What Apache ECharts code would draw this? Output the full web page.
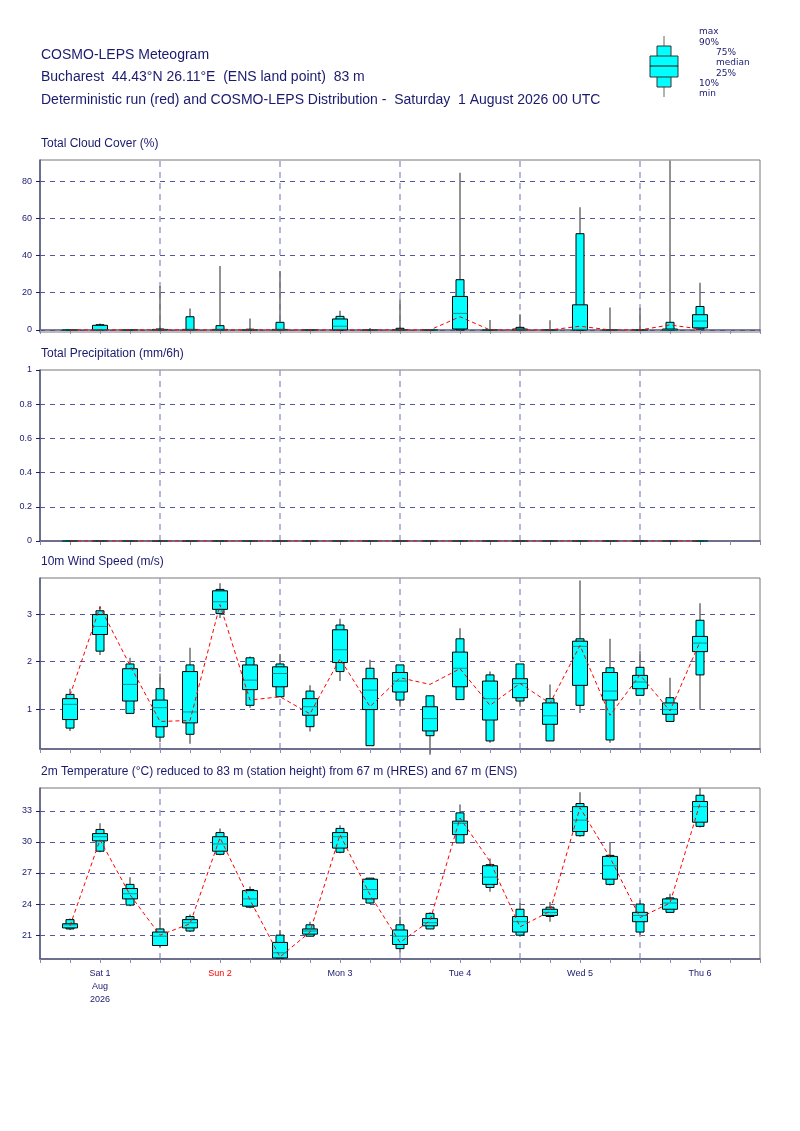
<!DOCTYPE html>
<html>
<head>
<meta charset="utf-8">
<script src="https://cdn.jsdelivr.net/npm/echarts@6/dist/echarts.min.js"></script>
<style>
  html, body { margin: 0; padding: 0; background: #fff; }
  #chart { width: 800px; height: 1131px; }
</style>
</head>
<body>
<div id="chart"></div>
<script>
// forecast steps in hours from Sat 1 Aug 00 UTC
var steps = [6, 12, 18, 24, 30, 36, 42, 48, 54, 60, 66, 72, 78, 84, 90, 96, 102, 108, 114, 120, 126, 132];
var dayLabels = ['Sat 1\nAug\n2026', 'Sun 2', 'Mon 3', 'Tue 4', 'Wed 5', 'Thu 6'];

// each row: min, p10, p25, median, p75, p90, max
var cloudBox = [
    [0, 0, 0, 0, 0, 0, 0],
    [0, 0, 0, 0, 2.5, 2.8, 3.5],
    [0, 0, 0, 0, 0, 0, 0],
    [0, 0, 0, 0, 0.3, 0.5, 23.6],
    [0, 0, 0, 0, 0.3, 7.1, 11.5],
    [0, 0, 0, 0, 0.3, 2.3, 34.3],
    [0, 0, 0, 0, 0, 0.4, 6.2],
    [0, 0, 0, 0, 0.3, 4.1, 31.6],
    [0, 0, 0, 0, 0, 0, 0],
    [0, 0, 0, 2.0, 5.9, 7.3, 10.3],
    [0, 0, 0, 0, 0, 0, 1],
    [0, 0, 0, 0, 0.2, 0.9, 16.5],
    [0, 0, 0, 0, 0, 0, 0],
    [0, 0, 0.5, 8.9, 18, 27, 84.5],
    [0, 0, 0, 0, 0, 0, 5.3],
    [0, 0, 0, 0, 0.5, 1.4, 8.5],
    [0, 0, 0, 0, 0, 0, 5.2],
    [0, 0, 0, 0.3, 13.5, 51.7, 65.9],
    [0, 0, 0, 0, 0, 0, 12],
    [0, 0, 0, 0, 0, 0, 11.9],
    [0, 0, 0, 0, 0.5, 4.1, 91],
    [0, 0.5, 1.1, 4.8, 8.2, 12.6, 25.4]
];
var cloudDet = [0, 0, 0, 0, 0, 0, 0, 0, 0, 0, 0, 0, 0, 7.1, 0, 0, 0, 2, 0, 0, 2.7, 0.5];

var precipBox = steps.map(function () { return [0, 0, 0, 0, 0, 0, 0]; });
var precipDet = steps.map(function () { return 0; });

var windBox = [
    [0.54, 0.60, 0.78, 1.10, 1.22, 1.31, 1.43],
    [2.14, 2.22, 2.57, 2.74, 2.99, 3.07, 3.17],
    [0.91, 0.91, 1.17, 1.52, 1.85, 1.95, 2.08],
    [0.30, 0.41, 0.63, 1.03, 1.19, 1.43, 1.75],
    [0.27, 0.47, 0.71, 0.94, 1.79, 1.93, 2.29],
    [2.92, 3.01, 3.10, 3.26, 3.49, 3.52, 3.65],
    [1.03, 1.08, 1.41, 1.61, 1.93, 2.08, 2.11],
    [1.26, 1.26, 1.47, 1.75, 1.89, 1.95, 2.16],
    [0.53, 0.63, 0.87, 1.05, 1.22, 1.38, 1.50],
    [1.59, 1.79, 1.98, 2.25, 2.67, 2.77, 2.90],
    [0.23, 0.23, 0.99, 1.40, 1.64, 1.86, 2.04],
    [1.05, 1.19, 1.36, 1.59, 1.77, 1.93, 1.93],
    [0.04, 0.44, 0.54, 0.80, 1.05, 1.28, 1.28],
    [1.20, 1.20, 1.47, 1.86, 2.20, 2.48, 2.70],
    [0.29, 0.33, 0.77, 1.22, 1.59, 1.72, 1.79],
    [1.05, 1.17, 1.24, 1.54, 1.64, 1.95, 1.95],
    [0.33, 0.33, 0.68, 0.86, 1.13, 1.22, 1.52],
    [0.92, 1.08, 1.50, 2.32, 2.43, 2.48, 3.71],
    [0.29, 0.35, 1.19, 1.38, 1.77, 1.87, 2.48],
    [1.29, 1.29, 1.43, 1.57, 1.71, 1.88, 2.23],
    [0.74, 0.74, 0.89, 0.99, 1.13, 1.24, 1.66],
    [0.99, 1.72, 2.21, 2.39, 2.53, 2.87, 3.23]
];
var windDet = [1.29, 3.15, 1.92, 0.74, 0.76, 3.2, 1.19, 1.26, 0.90, 2.06, 1.05, 1.66,
    1.52, 1.85, 1.08, 1.54, 1.12, 2.34, 0.87, 1.72, 0.96, 2.42];

var tempBox = [
    [21.5, 21.6, 21.7, 22.0, 22.1, 22.5, 22.6],
    [29.0, 29.1, 30.1, 30.5, 30.8, 31.2, 31.8],
    [23.8, 23.9, 24.5, 25.0, 25.5, 25.9, 26.6],
    [19.8, 20.0, 20.0, 20.9, 21.3, 21.6, 22.7],
    [21.3, 21.4, 21.7, 22.2, 22.5, 22.8, 23.0],
    [28.7, 28.8, 29.1, 29.8, 30.5, 30.9, 31.3],
    [23.6, 23.7, 23.8, 24.5, 25.3, 25.4, 25.7],
    [18.8, 18.8, 18.8, 19.3, 20.3, 21.0, 21.5],
    [20.9, 20.9, 21.1, 21.4, 21.6, 22.0, 22.3],
    [28.9, 29.0, 29.4, 30.5, 30.9, 31.3, 31.6],
    [24.0, 24.1, 24.5, 25.4, 26.4, 26.5, 26.5],
    [19.3, 19.7, 20.1, 20.9, 21.5, 22.0, 22.8],
    [21.6, 21.6, 21.9, 22.2, 22.6, 23.1, 23.2],
    [29.9, 29.9, 30.7, 31.8, 32.0, 32.8, 33.6],
    [25.2, 25.6, 25.9, 26.6, 27.7, 27.8, 28.4],
    [20.9, 21.0, 21.3, 22.3, 22.8, 23.5, 24.1],
    [22.3, 22.8, 22.9, 23.2, 23.5, 23.7, 24.2],
    [30.5, 30.6, 31.0, 32.1, 33.4, 33.7, 34.8],
    [25.8, 25.9, 26.4, 27.7, 28.6, 28.7, 30.0],
    [21.0, 21.3, 22.3, 22.9, 23.2, 24.0, 24.4],
    [23.2, 23.2, 23.5, 24.1, 24.5, 24.6, 25.0],
    [31.4, 31.5, 31.9, 33.4, 33.9, 34.5, 35.2]
];
var tempDet = [21.9, 30.2, 24.9, 21.0, 22.1, 30.4, 24.4, 18.9, 21.3, 30.7, 24.9, 20.3,
    22.4, 32.3, 28.1, 21.8, 23.3, 33.3, 28.5, 22.7, 24.1, 33.7];

var navy = '#1a1a6e';
var font = 'Liberation Sans';

// pixel layout of the four panels
var panels = [
    { title: 'Total Cloud Cover (%)', top: 160, h: 172, min: -1.1, max: 91.3, ticks: [0, 20, 40, 60, 80], box: cloudBox, det: cloudDet },
    { title: 'Total Precipitation (mm/6h)', top: 370, h: 171, min: 0, max: 1, ticks: [0, 0.2, 0.4, 0.6, 0.8, 1], box: precipBox, det: precipDet },
    { title: '10m Wind Speed (m/s)', top: 578, h: 171, min: 0.16, max: 3.76, ticks: [1, 2, 3], box: windBox, det: windDet },
    { title: '2m Temperature (\u00b0C) reduced to 83 m (station height) from 67 m (HRES) and 67 m (ENS)', top: 788, h: 171, min: 18.7, max: 35.2, ticks: [21, 24, 27, 30, 33], box: tempBox, det: tempDet }
];

function renderBox(params, api) {
    var x = api.value(0);
    var p = [1, 2, 3, 4, 5, 6, 7].map(function (i) { return api.coord([x, api.value(i)]); });
    var cx = p[0][0];
    var nw = 8, ww = 15;
    return {
        type: 'group',
        children: [
            { type: 'line', shape: { x1: cx, y1: p[0][1], x2: cx, y2: p[6][1] }, style: { stroke: '#6e6e6e', lineWidth: 1.5 } },
            { type: 'rect', shape: { x: cx - nw / 2, y: p[5][1], width: nw, height: p[1][1] - p[5][1] }, style: { fill: '#00ffff', stroke: '#000', lineWidth: 1 } },
            { type: 'rect', shape: { x: cx - ww / 2, y: p[4][1], width: ww, height: p[2][1] - p[4][1] }, style: { fill: '#00ffff', stroke: '#000', lineWidth: 1 } },
            { type: 'line', shape: { x1: cx - ww / 2, y1: p[3][1], x2: cx + ww / 2, y2: p[3][1] }, style: { stroke: '#009090', lineWidth: 1 } }
        ]
    };
}

var grids = [], xAxes = [], yAxes = [], series = [], graphics = [];
var dayLines = [24, 48, 72, 96, 120].map(function (v) { return { xAxis: v }; });

panels.forEach(function (pn, i) {
    grids.push({ left: 40, right: 40, top: pn.top, height: pn.h, show: true, borderColor: '#777', borderWidth: 1, containLabel: false });
    var last = i === panels.length - 1;
    xAxes.push({
        gridIndex: i, type: 'value', min: 0, max: 144, interval: 6,
        axisLine: { lineStyle: { color: '#55557f', width: 1.5 } },
        axisTick: { show: true, length: 4, lineStyle: { color: '#8888bb' } },
        splitLine: { show: false },
        axisLabel: {
            show: last, color: navy, fontFamily: font, fontSize: 9, lineHeight: 13, margin: 8,
            showMinLabel: true, showMaxLabel: true,
            formatter: function (v) {
                if ((v - 12) % 24 !== 0) return '';
                var k = (v - 12) / 24;
                return k === 1 ? '{red|' + dayLabels[k] + '}' : dayLabels[k];
            },
            rich: { red: { color: '#ff0000', fontFamily: font, fontSize: 9 } }
        }
    });
    yAxes.push({
        gridIndex: i, type: 'value', min: pn.min, max: pn.max,
        axisLine: { show: true, lineStyle: { color: '#55557f', width: 1.5 } },
        axisTick: { show: true, length: 4, customValues: pn.ticks, lineStyle: { color: navy } },
        axisLabel: { customValues: pn.ticks, color: navy, fontFamily: font, fontSize: 9, margin: 8 },
        splitLine: { show: false }
    });
    // horizontal grid lines at the tick values and vertical lines at 00 UTC
    var hLines = pn.ticks.filter(function (t) { return t > pn.min && t < pn.max; }).map(function (t) { return { yAxis: t }; });
    series.push({
        type: 'custom', xAxisIndex: i, yAxisIndex: i, silent: true,
        renderItem: renderBox,
        encode: { x: 0, y: [1, 2, 3, 4, 5, 6, 7] },
        data: steps.map(function (s, j) { return [s].concat(pn.box[j]); }),
        markLine: {
            silent: true, symbol: 'none', label: { show: false }, z: 0,
            lineStyle: { type: [5, 5], color: '#5555a0', width: 1 },
            data: hLines.concat(dayLines.map(function (d) {
                return { xAxis: d.xAxis, lineStyle: { color: '#a0a0d0', type: [6, 5], width: 1.5 } };
            }))
        },
        z: 3
    });
    series.push({
        type: 'line', xAxisIndex: i, yAxisIndex: i, silent: true, symbol: 'none',
        data: steps.map(function (s, j) { return [s, pn.det[j]]; }),
        lineStyle: { color: '#ff0000', width: 1, type: [4, 3] }, z: 5
    });
    graphics.push({ type: 'text', left: 41, top: pn.top - 22, style: { text: pn.title, fill: navy, font: '12px "Liberation Sans"' } });
});

// header
graphics.push({ type: 'text', left: 41, top: 48, style: { text: 'COSMO-LEPS Meteogram', fill: navy, font: '14px "Liberation Sans"' } });
graphics.push({ type: 'text', left: 41, top: 70, style: { text: 'Bucharest  44.43\u00b0N 26.11\u00b0E  (ENS land point)  83 m', fill: navy, font: '14px "Liberation Sans"' } });
graphics.push({ type: 'text', left: 41, top: 93, style: { text: 'Deterministic run (red) and COSMO-LEPS Distribution -  Saturday  1 August 2026 00 UTC', fill: navy, font: '14px "Liberation Sans"' } });

// legend glyph
graphics.push({ type: 'line', shape: { x1: 664, y1: 36, x2: 664, y2: 97 }, style: { stroke: '#666', lineWidth: 1 } });
graphics.push({ type: 'rect', shape: { x: 657, y: 46, width: 14, height: 41 }, style: { fill: '#00ffff', stroke: '#333', lineWidth: 1 } });
graphics.push({ type: 'rect', shape: { x: 650, y: 56, width: 28, height: 21 }, style: { fill: '#00ffff', stroke: '#333', lineWidth: 1 } });
graphics.push({ type: 'line', shape: { x1: 650, y1: 66, x2: 678, y2: 66 }, style: { stroke: '#111', lineWidth: 1 } });
[['max', 699, 27], ['90%', 699, 38], ['75%', 716, 48], ['median', 716, 58], ['25%', 716, 69], ['10%', 699, 79], ['min', 699, 89]].forEach(function (t) {
    graphics.push({ type: 'text', left: t[1], top: t[2], style: { text: t[0], fill: navy, font: '9px "DejaVu Sans"' } });
});

var chart = echarts.init(document.getElementById('chart'));
chart.setOption({
    animation: false,
    backgroundColor: '#fff',
    grid: grids,
    xAxis: xAxes,
    yAxis: yAxes,
    series: series,
    graphic: graphics
});
</script>
</body>
</html>
